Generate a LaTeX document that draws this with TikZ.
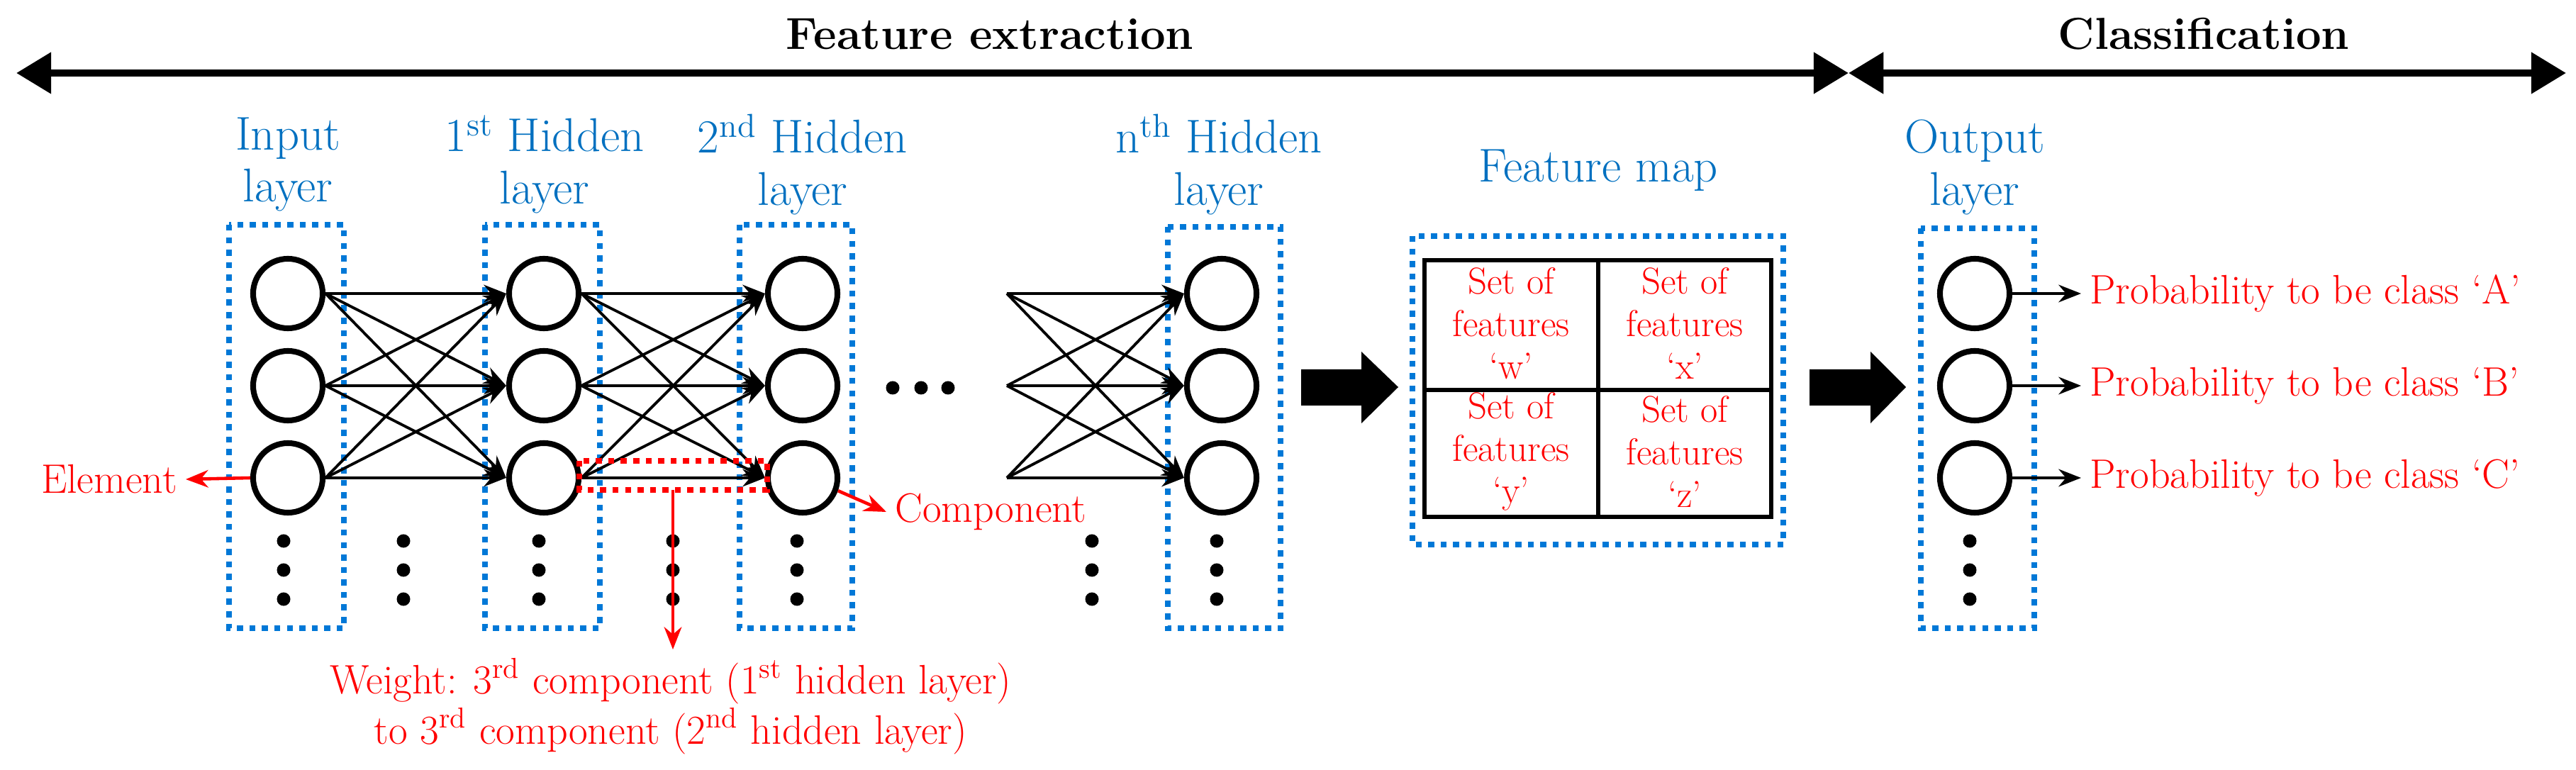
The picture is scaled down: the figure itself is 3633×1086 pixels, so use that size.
\documentclass[tikz,border=0pt]{standalone}
\usetikzlibrary{arrows.meta}
\definecolor{lblue}{RGB}{0,112,192}
\definecolor{dblue}{RGB}{0,120,215}
\begin{document}
\begin{tikzpicture}[x=0.01cm,y=-0.01cm,
  neu/.style={circle,draw,line width=2.3pt,inner sep=0pt,minimum size=0.98cm},
  box/.style={draw=dblue,line width=2.4pt,dash pattern=on 2.4pt off 2.6pt},
  lab/.style={text=lblue,font=\fontsize{19}{21}\selectfont,align=center},
  rtxt/.style={text=red,font=\fontsize{16.5}{20}\selectfont},
  cell/.style={text=red,font=\fontsize{15}{17}\selectfont,align=center},
  con/.style={line width=1.1pt,-{Stealth[length=9pt,width=7pt]}},
  rarr/.style={draw=red,line width=1.3pt,-{Stealth[length=9pt,width=7pt]}},
  dot/.style={circle,fill,inner sep=0pt,minimum size=0.19cm},
  big/.style={fill=black}]
\useasboundingbox (0,0) rectangle (3633,1086);
% top arrows
\coordinate (L) at (23,103); \coordinate (M) at (2607,103); \coordinate (R) at (3619,103);
\draw[line width=3pt,{Triangle[length=14pt,width=16pt]}-{Triangle[length=14pt,width=16pt]}] (L) -- (M);
\draw[line width=3pt,{Triangle[length=14pt,width=16pt]}-{Triangle[length=14pt,width=16pt]}] (M) -- (R);
\node[font=\bfseries\fontsize{18}{21}\selectfont] (t1) at (1396,48) {Feature extraction};
\node[font=\bfseries\fontsize{18}{21}\selectfont] (t2) at (3108,48) {Classification};
% boxes
\draw[box] (323,317) rectangle (485,886);
\draw[box] (684,317) rectangle (846,886);
\draw[box] (1043,317) rectangle (1202,886);
\draw[box] (1647,320) rectangle (1806,886);
\draw[box] (2709,322) rectangle (2869,886);
\draw[box] (1992,333) rectangle (2515,768);
% labels
\node[lab] (li) at (406,232) {Input\\layer};
\node[lab] (l1) at (768,232) {1\textsuperscript{st} Hidden\\layer};
\node[lab] (l2) at (1132,232) {2\textsuperscript{nd} Hidden\\layer};
\node[lab] (ln) at (1719,232) {n\textsuperscript{th} Hidden\\layer};
\node[lab] (lo) at (2785,236) {Output\\layer};
\node[lab] (lf) at (2254,240) {Feature map};
% neurons
\foreach \c/\x in {i/406,a/767,b/1132,n/1723,o/2785}{
  \node[neu] (\c1) at (\x,414) {};
  \node[neu] (\c2) at (\x,544) {};
  \node[neu] (\c3) at (\x,674) {};
}
\foreach \s/\t in {i/a,a/b}{
  \foreach \p in {1,2,3}{\foreach \q in {1,2,3}{
    \draw[con] (\s\p.east) -- (\t\q.west);}}}
\coordinate (f1) at (1420,414); \coordinate (f2) at (1420,544); \coordinate (f3) at (1420,674);
\foreach \p in {1,2,3}{\foreach \q in {1,2,3}{\draw[con] (f\p) -- (n\q.west);}}
% dots
\foreach \x/\n in {400/di,569/dx,760/da,949/dw,1124/db,1540/dy,1716/dn,2778/do}{
  \node[dot] (\n1) at (\x,763) {}; \node[dot] (\n2) at (\x,804) {}; \node[dot] (\n3) at (\x,845) {};}
\node[dot] (h1) at (1259,547) {}; \node[dot] (h2) at (1299,547) {}; \node[dot] (h3) at (1337,547) {};
% element
\node[rtxt,anchor=east] (el) at (262,676) {Element};
\draw[rarr] (i3.west) -- (el.east);
% component
\node[rtxt,anchor=west] (co) at (1250,722) {Component};
\draw[rarr] (b3.-20) -- (co.west);
% weight
\draw[draw=red,line width=2.4pt,dash pattern=on 2.4pt off 2.6pt] (817,650) rectangle (1082,691);
\coordinate (wb) at (949,691);
\node[rtxt,align=center] (wt) at (946,996) {Weight: 3\textsuperscript{rd} component (1\textsuperscript{st} hidden layer)\\to 3\textsuperscript{rd} component (2\textsuperscript{nd} hidden layer)};
\draw[rarr] (wb) -- (wt.north -| wb);
% feature map table
\draw[line width=1.6pt] (2009,367) rectangle (2498,729);
\draw[line width=1.6pt] (2254,367) -- (2254,729) (2009,550) -- (2498,550);
\node[cell] (cw) at (2131,456) {Set of\\features\\`w'};
\node[cell] (cx) at (2376,456) {Set of\\features\\`x'};
\node[cell] (cy) at (2131,637) {Set of\\features\\`y'};
\node[cell] (cz) at (2376,637) {Set of\\features\\`z'};
% big arrows
\fill[big] (1835,521) -- (1920,521) -- (1920,496) -- (1972,546) -- (1920,597) -- (1920,572) -- (1835,572) -- cycle;
\fill[big] (2552,521) -- (2638,521) -- (2638,496) -- (2688,546) -- (2638,597) -- (2638,572) -- (2552,572) -- cycle;
% outputs
\node[rtxt,anchor=west] (pa) at (2935,414) {Probability to be class `A'};
\node[rtxt,anchor=west] (pb) at (2935,544) {Probability to be class `B'};
\node[rtxt,anchor=west] (pc) at (2935,674) {Probability to be class `C'};
\draw[con,line width=1.3pt] (o1.east) -- (pa.west);
\draw[con,line width=1.3pt] (o2.east) -- (pb.west);
\draw[con,line width=1.3pt] (o3.east) -- (pc.west);
\end{tikzpicture}
\end{document}
